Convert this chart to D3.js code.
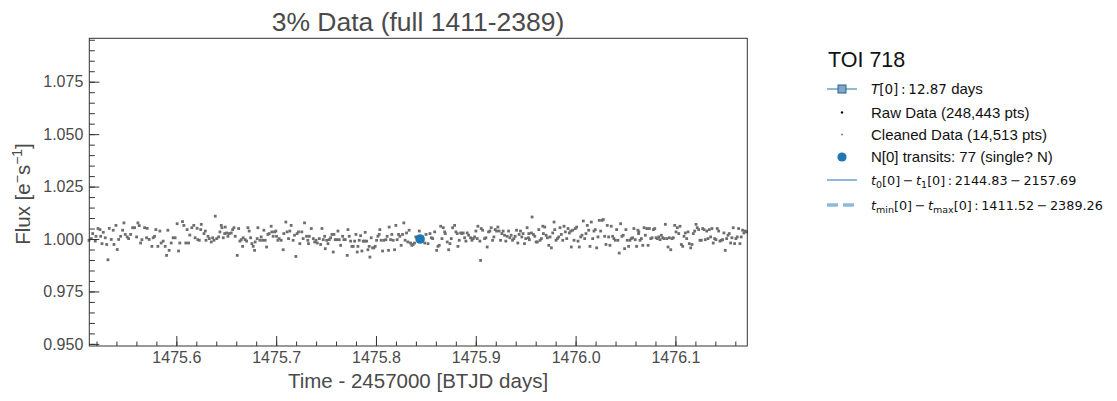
<!DOCTYPE html>
<html>
<head>
<meta charset="utf-8">
<script src="https://cdn.jsdelivr.net/npm/d3@7"></script>
<style>
  body { margin: 0; background: #fff; }
  text { font-family: "Liberation Sans", Arial, sans-serif; }
</style>
</head>
<body>
<div id="canvas"></div>
<script>
"use strict"

/* data */
let xMajorTicks = [1475.6, 1475.7, 1475.8, 1475.9, 1476.0, 1476.1];
let yMajorTicks = [0.950, 0.975, 1.000, 1.025, 1.050, 1.075];
let xDomain = [1475.5128, 1476.172];
let yDomain = [0.949, 1.0957];

/* transit marker (blue dot) */
let transitPts = [[1475.8442, 1.0000]];

/* cleaned (3%) data points: [time, flux] */
let cleanedPts = [
[1475.5125,0.9994],[1475.5148,1.0002],[1475.5162,1.0026],[1475.5188,0.9990],[1475.5195,1.0013],[1475.5215,1.0050],[1475.5235,1.0045],[1475.5242,1.0013],[1475.5255,0.9978],[1475.5268,1.0032],
[1475.5288,1.0006],[1475.5302,0.9974],[1475.5315,0.9901],[1475.5328,1.0051],[1475.5348,0.9998],[1475.5368,1.0042],[1475.5375,0.9974],[1475.5395,1.0065],[1475.5408,0.9950],[1475.5422,0.9998],
[1475.5442,1.0013],[1475.5462,1.0042],[1475.5475,1.0077],[1475.5488,1.0022],[1475.5508,1.0010],[1475.5522,1.0002],[1475.5542,1.0022],[1475.5562,1.0054],[1475.5582,1.0054],[1475.5602,1.0010],
[1475.5615,1.0077],[1475.5628,1.0064],[1475.5642,0.9981],[1475.5655,0.9997],[1475.5682,1.0054],[1475.5702,1.0006],[1475.5708,1.0051],[1475.5728,0.9998],[1475.5755,0.9965],[1475.5768,1.0006],
[1475.5782,1.0013],[1475.5795,1.0045],[1475.5815,0.9965],[1475.5835,1.0038],[1475.5848,0.9981],[1475.5868,0.9990],[1475.5888,0.9965],[1475.5902,0.9922],[1475.5915,1.0042],[1475.5928,0.9946],
[1475.5948,0.9981],[1475.5968,1.0006],[1475.5988,1.0006],[1475.6008,1.0073],[1475.6022,0.9943],[1475.6035,0.9981],[1475.6062,1.0083],[1475.6075,1.0065],[1475.6095,0.9981],[1475.6108,1.0045],
[1475.6122,0.9981],[1475.6135,1.0019],[1475.6155,1.0054],[1475.6175,1.0065],[1475.6188,1.0006],[1475.6208,1.0051],[1475.6215,0.9997],
[1475.6230,0.9994],[1475.6244,1.0045],[1475.6250,1.0070],[1475.6277,1.0026],[1475.6290,1.0038],[1475.6297,0.9994],[1475.6317,1.0013],[1475.6330,1.0002],[1475.6350,0.9986],[1475.6364,1.0006],
[1475.6377,0.9994],[1475.6390,1.0109],[1475.6404,1.0002],[1475.6424,1.0010],[1475.6437,1.0034],[1475.6450,1.0065],[1475.6457,1.0054],[1475.6470,1.0006],[1475.6484,1.0026],[1475.6490,1.0057],
[1475.6504,1.0029],[1475.6517,1.0013],[1475.6530,1.0026],[1475.6550,1.0029],[1475.6564,1.0045],[1475.6577,1.0054],[1475.6590,1.0013],[1475.6610,0.9922],[1475.6624,1.0050],[1475.6637,0.9990],
[1475.6650,0.9997],[1475.6664,0.9965],[1475.6670,1.0006],[1475.6690,0.9997],[1475.6704,0.9990],[1475.6717,1.0054],[1475.6730,1.0038],[1475.6744,1.0006],[1475.6757,0.9978],[1475.6770,0.9965],
[1475.6784,0.9946],[1475.6790,0.9986],[1475.6810,1.0002],[1475.6817,1.0054],[1475.6837,0.9994],[1475.6850,1.0010],[1475.6864,0.9994],[1475.6877,1.0042],[1475.6890,0.9994],[1475.6904,0.9962],
[1475.6917,1.0022],[1475.6930,1.0026],[1475.6950,1.0061],[1475.6957,1.0034],[1475.6970,1.0013],[1475.6984,1.0034],[1475.6997,1.0038],[1475.7004,1.0013],[1475.7017,0.9994],[1475.7030,1.0002],
[1475.7050,0.9994],[1475.7070,0.9949],[1475.7077,1.0026],[1475.7097,1.0081],[1475.7110,1.0034],[1475.7124,1.0002],[1475.7137,1.0038],[1475.7150,1.0065],[1475.7170,0.9994],[1475.7184,1.0018],
[1475.7197,0.9917],[1475.7210,1.0026],[1475.7224,1.0034],[1475.7237,0.9978],[1475.7257,1.0034],[1475.7270,1.0002],[1475.7284,1.0077],[1475.7304,1.0013],[1475.7317,0.9994],[1475.7324,0.9978],
[1475.7332,1.0013],[1475.7352,1.0050],[1475.7372,1.0002],[1475.7386,0.9986],[1475.7399,0.9994],[1475.7412,0.9981],[1475.7432,1.0002],[1475.7446,0.9974],[1475.7459,1.0050],[1475.7472,0.9997],
[1475.7486,1.0013],[1475.7492,0.9954],[1475.7506,0.9994],[1475.7519,0.9978],[1475.7532,0.9997],[1475.7546,1.0006],[1475.7559,1.0022],[1475.7572,0.9938],[1475.7579,1.0022],[1475.7592,0.9997],
[1475.7606,0.9997],[1475.7619,1.0038],[1475.7632,0.9997],[1475.7646,0.9970],[1475.7666,1.0013],[1475.7679,0.9997],[1475.7692,0.9997],[1475.7712,0.9922],[1475.7719,1.0045],[1475.7732,1.0013],
[1475.7746,0.9990],[1475.7759,0.9965],[1475.7772,0.9965],[1475.7786,0.9990],[1475.7799,1.0022],[1475.7812,0.9938],[1475.7819,0.9965],[1475.7832,0.9994],[1475.7846,1.0016],[1475.7859,0.9943],
[1475.7872,0.9990],[1475.7886,0.9990],[1475.7892,1.0032],[1475.7906,0.9990],[1475.7919,0.9949],[1475.7932,0.9965],[1475.7939,0.9914],[1475.7952,1.0006],[1475.7966,0.9958],[1475.7979,0.9958],
[1475.7992,0.9965],[1475.8006,0.9994],[1475.8019,1.0013],[1475.8032,1.0022],[1475.8039,1.0045],[1475.8052,0.9994],[1475.8066,0.9943],[1475.8079,0.9994],[1475.8099,0.9997],[1475.8112,1.0013],
[1475.8126,0.9946],[1475.8132,1.0057],[1475.8146,0.9997],[1475.8159,1.0022],[1475.8172,0.9994],[1475.8186,0.9949],[1475.8199,1.0065],[1475.8212,0.9997],[1475.8226,1.0022],[1475.8239,1.0013],
[1475.8252,0.9970],[1475.8266,1.0022],[1475.8279,1.0077],[1475.8292,0.9994],[1475.8306,1.0029],[1475.8319,0.9986],[1475.8332,1.0042],[1475.8346,0.9981],[1475.8359,0.9970],[1475.8372,0.9974],
[1475.8386,0.9981],[1475.8399,1.0010],
[1475.8434,1.0038],[1475.8468,1.0010],[1475.8488,0.9981],[1475.8501,1.0022],[1475.8521,0.9978],[1475.8541,1.0026],[1475.8554,1.0006],[1475.8568,1.0002],[1475.8588,1.0034],[1475.8608,0.9946],
[1475.8621,0.9965],[1475.8634,0.9970],[1475.8648,1.0061],[1475.8661,1.0002],[1475.8674,1.0054],[1475.8688,1.0034],[1475.8694,1.0026],[1475.8714,0.9986],[1475.8728,0.9949],[1475.8741,0.9978],
[1475.8754,1.0002],[1475.8768,1.0054],[1475.8788,1.0065],[1475.8801,1.0034],[1475.8814,1.0026],[1475.8821,0.9965],[1475.8834,0.9994],[1475.8848,1.0029],[1475.8861,1.0026],[1475.8874,1.0029],
[1475.8888,1.0006],[1475.8901,0.9990],[1475.8914,1.0029],[1475.8928,1.0018],[1475.8948,1.0006],[1475.8961,0.9994],[1475.8974,1.0002],[1475.8988,1.0010],[1475.9001,1.0038],[1475.9014,1.0002],
[1475.9021,1.0061],[1475.9041,0.9990],[1475.9048,0.9898],[1475.9054,1.0050],[1475.9068,1.0042],[1475.9088,1.0002],[1475.9101,1.0006],[1475.9114,0.9962],[1475.9128,1.0034],[1475.9141,1.0038],
[1475.9154,1.0054],[1475.9168,0.9994],[1475.9181,1.0010],[1475.9194,1.0045],[1475.9208,1.0038],[1475.9221,1.0057],[1475.9234,1.0038],[1475.9248,0.9994],[1475.9261,1.0026],[1475.9274,1.0038],
[1475.9288,1.0018],[1475.9301,0.9990],[1475.9314,1.0013],[1475.9328,1.0038],[1475.9341,1.0006],[1475.9354,1.0018],[1475.9368,0.9994],[1475.9381,1.0002],[1475.9394,1.0013],[1475.9408,1.0042],
[1475.9421,0.9981],[1475.9434,1.0022],[1475.9448,1.0038],[1475.9461,1.0010],[1475.9474,1.0026],[1475.9488,0.9978],[1475.9501,1.0002],[1475.9514,1.0054],[1475.9528,1.0006],
[1475.9531,1.0026],[1475.9537,0.9997],[1475.9557,1.0029],[1475.9564,1.0105],[1475.9577,1.0022],[1475.9591,1.0013],[1475.9604,0.9986],[1475.9617,0.9986],[1475.9631,1.0045],[1475.9644,0.9994],
[1475.9657,1.0002],[1475.9671,1.0061],[1475.9677,1.0026],[1475.9691,1.0057],[1475.9704,1.0018],[1475.9717,1.0006],[1475.9731,0.9970],[1475.9744,1.0010],[1475.9757,0.9958],[1475.9771,1.0029],
[1475.9784,1.0081],[1475.9791,1.0045],[1475.9804,0.9994],[1475.9817,1.0002],[1475.9831,1.0010],[1475.9844,1.0054],[1475.9857,1.0022],[1475.9871,0.9994],[1475.9884,1.0061],[1475.9897,1.0034],
[1475.9911,1.0002],[1475.9924,1.0050],[1475.9937,1.0029],[1475.9951,1.0038],[1475.9957,0.9962],[1475.9971,1.0042],[1475.9984,0.9994],[1475.9997,1.0050],[1476.0011,1.0057],[1476.0024,0.9990],
[1476.0037,0.9962],[1476.0051,1.0010],[1476.0064,1.0018],[1476.0077,1.0086],[1476.0091,1.0002],[1476.0104,1.0026],[1476.0117,1.0065],[1476.0131,1.0042],[1476.0144,0.9965],[1476.0157,1.0081],
[1476.0171,1.0002],[1476.0184,1.0038],[1476.0197,1.0045],[1476.0211,0.9958],[1476.0224,1.0010],[1476.0237,1.0089],[1476.0251,1.0038],[1476.0264,1.0089],[1476.0277,1.0093],[1476.0291,1.0013],
[1476.0304,0.9974],[1476.0317,1.0065],[1476.0331,1.0010],[1476.0344,0.9970],[1476.0357,1.0061],[1476.0371,1.0013],[1476.0384,1.0002],[1476.0397,0.9994],[1476.0411,1.0045],[1476.0424,0.9994],
[1476.0437,0.9933],[1476.0451,1.0073],[1476.0464,1.0013],[1476.0477,1.0018],[1476.0491,0.9954],[1476.0504,1.0045],[1476.0517,0.9994],[1476.0531,0.9965],[1476.0544,0.9994],[1476.0557,1.0002],
[1476.0571,1.0006],[1476.0584,1.0050],[1476.0597,0.9997],[1476.0611,0.9965],[1476.0624,1.0042],[1476.0631,1.0026],
[1476.0633,1.0034],[1476.0646,0.9994],[1476.0659,1.0002],[1476.0673,0.9970],[1476.0686,1.0054],[1476.0699,1.0018],[1476.0713,1.0050],[1476.0726,0.9970],[1476.0739,1.0050],[1476.0753,1.0002],
[1476.0766,1.0006],[1476.0779,1.0045],[1476.0793,1.0050],[1476.0806,1.0006],[1476.0819,1.0002],[1476.0833,1.0010],[1476.0846,0.9997],[1476.0859,1.0018],[1476.0873,1.0006],[1476.0886,1.0002],
[1476.0899,1.0070],[1476.0913,1.0002],[1476.0926,0.9962],[1476.0939,1.0006],[1476.0953,0.9949],[1476.0966,1.0002],[1476.0979,1.0006],[1476.0993,1.0065],[1476.1006,1.0034],[1476.1019,1.0054],
[1476.1033,1.0026],[1476.1046,1.0061],[1476.1059,0.9974],[1476.1073,0.9965],[1476.1086,1.0013],[1476.1099,1.0029],[1476.1113,1.0002],[1476.1126,1.0034],[1476.1139,0.9978],[1476.1153,0.9958],
[1476.1166,0.9974],[1476.1179,1.0026],[1476.1193,1.0038],[1476.1206,1.0070],[1476.1219,1.0054],[1476.1233,1.0045],[1476.1246,0.9994],[1476.1259,0.9994],[1476.1273,1.0050],[1476.1286,1.0045],
[1476.1299,0.9997],[1476.1313,1.0038],[1476.1326,1.0002],[1476.1339,1.0045],[1476.1353,1.0010],[1476.1366,1.0050],[1476.1379,0.9981],[1476.1393,1.0002],[1476.1406,0.9997],[1476.1419,1.0050],
[1476.1433,1.0038],[1476.1446,0.9990],[1476.1459,0.9994],[1476.1473,0.9997],[1476.1486,1.0029],[1476.1499,0.9946],[1476.1513,1.0002],[1476.1526,1.0018],[1476.1539,1.0026],[1476.1553,0.9981],
[1476.1566,1.0006],[1476.1579,1.0054],[1476.1593,0.9978],[1476.1606,1.0002],[1476.1619,1.0010],[1476.1633,1.0050],[1476.1646,0.9978],[1476.1659,1.0010],[1476.1673,1.0042],[1476.1686,1.0029],
[1476.1699,1.0038],[1476.1713,1.0034]
];

/* legend */
let legendTitle = "TOI 718";

let axisGrey = "#4a4a4a";
let blue = "#1f77b4";
let lightBlue = "#8ebad9";

/* drawing canvas */
let drawing = d3.select("#canvas")
    .append("svg")
    .attr("width", 1117)
    .attr("height", 401);

let x = d3.scaleLinear().domain(xDomain).range([89.3, 747.3]);
let y = d3.scaleLinear().domain(yDomain).range([346, 38.3]);

/* data points */
let sq = 2.8;
drawing.append("g")
    .selectAll("rect")
    .data(cleanedPts)
    .join("rect")
    .attr("x", d => x(d[0]) - sq / 2)
    .attr("y", d => y(d[1]) - sq / 2)
    .attr("width", sq)
    .attr("height", sq)
    .attr("fill", "#6e6e6e");

drawing.append("g")
    .selectAll("circle")
    .data(transitPts)
    .join("circle")
    .attr("cx", d => x(d[0]))
    .attr("cy", d => y(d[1]))
    .attr("r", 4.8)
    .attr("fill", blue);

/* axes, ticks point inward */
function styleAxis(g) {
    g.select(".domain").remove();
    g.selectAll("line").attr("stroke", "#333").attr("stroke-width", 1);
    g.selectAll("text")
        .attr("fill", axisGrey)
        .style("font-family", "'Liberation Sans', Arial, sans-serif")
        .style("font-size", "16px");
}

let xMinor = d3.range(1475.52, 1476.171, 0.02);
let yMinor = d3.range(0.950, 1.096, 0.005);

drawing.append("g")
    .attr("transform", "translate(0,346)")
    .call(d3.axisBottom(x).tickValues(xMinor).tickSize(-4.5).tickFormat(""))
    .call(styleAxis);

drawing.append("g")
    .attr("transform", "translate(0,346)")
    .call(d3.axisBottom(x).tickValues(xMajorTicks).tickSize(-10).tickPadding(6).tickFormat(d3.format(".1f")))
    .call(styleAxis);

drawing.append("g")
    .attr("transform", "translate(89.3,0)")
    .call(d3.axisLeft(y).tickValues(yMinor).tickSize(-5.5).tickFormat(""))
    .call(styleAxis);

drawing.append("g")
    .attr("transform", "translate(89.3,0)")
    .call(d3.axisLeft(y).tickValues(yMajorTicks).tickSize(-10).tickPadding(6).tickFormat(d3.format(".3f")))
    .call(styleAxis);

/* frame */
drawing.append("rect")
    .attr("x", x.range()[0])
    .attr("y", y.range()[1])
    .attr("width", x.range()[1] - x.range()[0])
    .attr("height", y.range()[0] - y.range()[1])
    .attr("fill", "none")
    .attr("stroke", "#333")
    .attr("stroke-width", 1);

/* titles */
drawing.append("text")
    .attr("x", 418)
    .attr("y", 31)
    .attr("text-anchor", "middle")
    .attr("fill", axisGrey)
    .style("font-size", "26.5px")
    .text("3% Data (full 1411-2389)");

drawing.append("text")
    .attr("x", 418)
    .attr("y", 388)
    .attr("text-anchor", "middle")
    .attr("fill", axisGrey)
    .style("font-size", "20.5px")
    .text("Time - 2457000 [BTJD days]");

let yLabel = drawing.append("text")
    .attr("transform", "translate(30,194) rotate(-90)")
    .attr("text-anchor", "middle")
    .attr("fill", axisGrey)
    .style("font-size", "20.5px");
yLabel.append("tspan").text("Flux [e");
yLabel.append("tspan").attr("dy", -8).style("font-size", "14px").text("\u2212");
yLabel.append("tspan").attr("dy", 8).text("s");
yLabel.append("tspan").attr("dy", -8).style("font-size", "14px").text("\u22121");
yLabel.append("tspan").attr("dy", 8).text("]");

/* legend */
let legend = drawing.append("g");
legend.append("text")
    .attr("x", 828)
    .attr("y", 67)
    .attr("fill", "#111")
    .style("font-size", "21.5px")
    .text(legendTitle);

let rowY = [89, 112.5, 134.5, 157, 180, 205];
let hx1 = 827, hx2 = 857, hmid = 842, tx = 871;

// period handle: line with square marker
legend.append("line")
    .attr("x1", hx1).attr("x2", hx2).attr("y1", rowY[0]).attr("y2", rowY[0])
    .attr("stroke", lightBlue).attr("stroke-width", 2);
legend.append("rect")
    .attr("x", hmid - 4).attr("y", rowY[0] - 4).attr("width", 8).attr("height", 8)
    .attr("fill", "#7fa7c8").attr("stroke", "#2e5f8a").attr("stroke-width", 1);

legend.append("circle").attr("cx", hmid).attr("cy", rowY[1]).attr("r", 1.2).attr("fill", "#000");
legend.append("circle").attr("cx", hmid).attr("cy", rowY[2]).attr("r", 1.1).attr("fill", "#888");
legend.append("circle").attr("cx", hmid).attr("cy", rowY[3]).attr("r", 4.6).attr("fill", blue);

legend.append("line")
    .attr("x1", hx1).attr("x2", hx2).attr("y1", rowY[4]).attr("y2", rowY[4])
    .attr("stroke", lightBlue).attr("stroke-width", 2);
legend.append("line")
    .attr("x1", hx1).attr("x2", hx2).attr("y1", rowY[5]).attr("y2", rowY[5])
    .attr("stroke", lightBlue).attr("stroke-width", 3.5).attr("stroke-dasharray", "11,5");

let math = "'DejaVu Sans', sans-serif";

function legendText(i) {
    return legend.append("text")
        .attr("x", tx)
        .attr("y", rowY[i] + 5)
        .attr("fill", "#111")
        .style("font-size", "15px");
}

let t0 = legendText(0);
t0.append("tspan").style("font-family", math).style("font-style", "italic").style("font-size", "13.5px").text("T");
t0.append("tspan").style("font-family", math).style("font-size", "13.5px").text("[0]\u2009:\u200912.87");
t0.append("tspan").text(" days");

legendText(1).text("Raw Data (248,443 pts)");
legendText(2).text("Cleaned Data (14,513 pts)");
legendText(3).text("N[0] transits: 77 (single? N)");

let t4 = legendText(4).style("font-family", math).style("font-size", "12.8px");
t4.append("tspan").style("font-style", "italic").text("t");
t4.append("tspan").attr("dy", 3).style("font-size", "9.5px").text("0");
t4.append("tspan").attr("dy", -3).text("[0]\u2009\u2212\u2009");
t4.append("tspan").style("font-style", "italic").text("t");
t4.append("tspan").attr("dy", 3).style("font-size", "9.5px").text("1");
t4.append("tspan").attr("dy", -3).text("[0]\u2009:\u20092144.83\u2009\u2212\u20092157.69");

let t5 = legendText(5).style("font-family", math).style("font-size", "12.8px");
t5.append("tspan").style("font-style", "italic").text("t");
t5.append("tspan").attr("dy", 3).style("font-size", "9.5px").text("min");
t5.append("tspan").attr("dy", -3).text("[0]\u2009\u2212\u2009");
t5.append("tspan").style("font-style", "italic").text("t");
t5.append("tspan").attr("dy", 3).style("font-size", "9.5px").text("max");
t5.append("tspan").attr("dy", -3).text("[0]\u2009:\u20091411.52\u2009\u2212\u20092389.26");
</script>
</body>
</html>
